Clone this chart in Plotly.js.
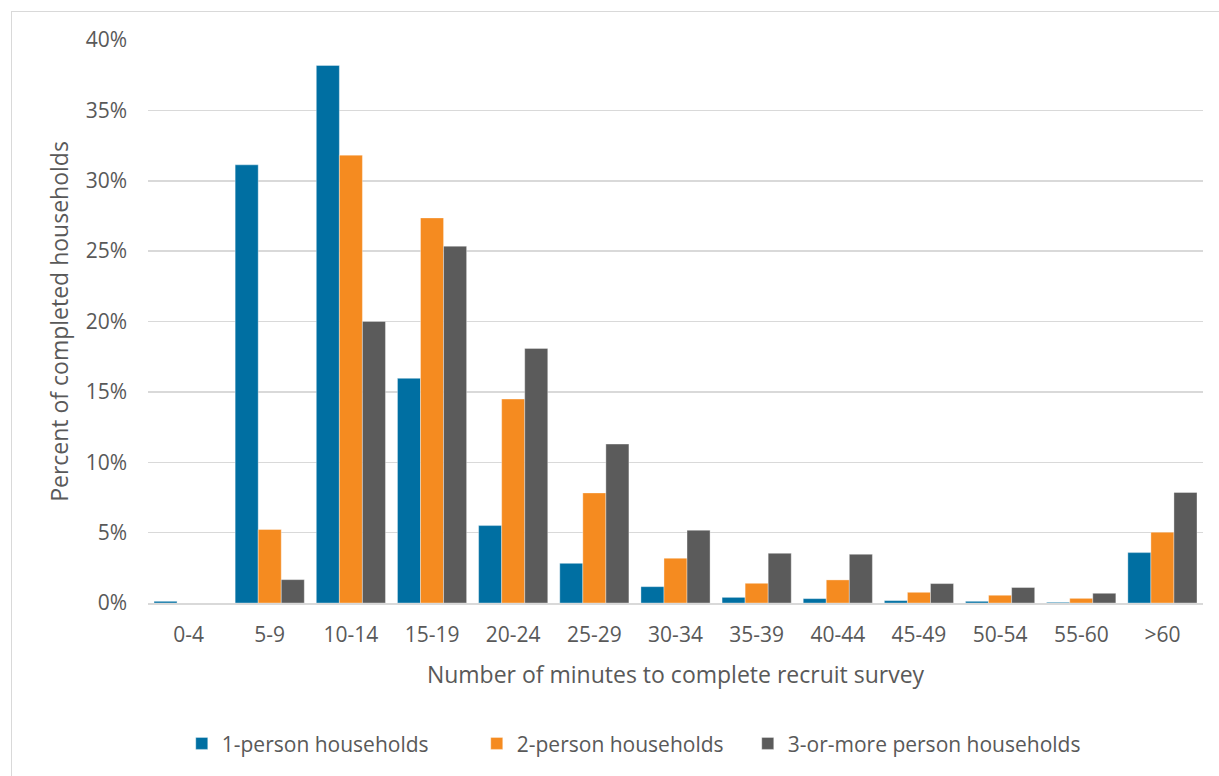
<!DOCTYPE html>
<html>
<head>
<meta charset="utf-8">
<script src="https://cdn.plot.ly/plotly-3.0.1.min.js"></script>
<style>
  html, body { margin: 0; padding: 0; background: #ffffff; }
  #wrap { position: relative; width: 1219px; height: 776px; overflow: hidden; }
  #frame { position: absolute; left: 11px; top: 11px; width: 1300px; height: 900px;
           border-left: 1.5px solid #d9d9d9; border-top: 1.5px solid #d9d9d9; pointer-events: none; }
  #chart { position: absolute; left: 0; top: 0; width: 1219px; height: 776px; }
</style>
</head>
<body>
<div id="wrap">
  <div id="chart"></div>
  <div id="frame"></div>
</div>
<script>
// Time bands (minutes) for completing the recruit survey
const categories = ['0-4', '5-9', '10-14', '15-19', '20-24', '25-29', '30-34',
                    '35-39', '40-44', '45-49', '50-54', '55-60', '>60'];

// Share of completed households per band (%)
const onePerson   = [0.12, 31.13, 38.19, 15.96, 5.50, 2.82, 1.16, 0.40, 0.31, 0.17, 0.12, 0.05, 3.58];
const twoPerson   = [0.00, 5.22, 31.82, 27.36, 14.49, 7.82, 3.18, 1.40, 1.64, 0.76, 0.55, 0.33, 5.03];
const threePlus   = [0.00, 1.66, 20.00, 25.35, 18.09, 11.29, 5.17, 3.53, 3.46, 1.38, 1.10, 0.69, 7.85];

const seriesNames = ['1-person households', '2-person households', '3-or-more person households'];
const seriesColors = ['#006fa2', '#f58b20', '#5b5b5b'];
const seriesValues = [onePerson, twoPerson, threePlus];

const FONT = '"Open Sans", "DejaVu Sans", sans-serif';
const TEXT = '#595959';

// legend entry widths in px (last entry holds the longest label)
const legendWidths = [250, 226, 330];

const traces = seriesValues.map((vals, i) => ({
  type: 'bar',
  name: seriesNames[i],
  x: categories,
  y: vals.map(v => v / 100),
  legendwidth: legendWidths[i],
  marker: { color: seriesColors[i], line: { color: 'rgba(255,255,255,0.45)', width: 0.8 } },
  hovertemplate: '%{x}: %{y:.1%}<extra>' + seriesNames[i] + '</extra>'
}));

const layout = {
  width: 1219,
  height: 776,
  margin: { l: 148, r: 16, t: 40, b: 173 },
  paper_bgcolor: '#ffffff',
  plot_bgcolor: '#ffffff',
  barmode: 'group',
  bargap: 0.148,
  bargroupgap: 0,
  font: { family: FONT, color: TEXT, size: 21 },
  xaxis: {
    type: 'category',
    showgrid: false,
    showline: true,
    linecolor: '#d9d9d9',
    linewidth: 1.5,
    ticks: '',
    tickfont: { family: FONT, size: 21, color: TEXT },
    ticklabelstandoff: 12,
    title: {
      text: 'Number of minutes to complete recruit survey',
      font: { family: FONT, size: 23, color: TEXT },
      standoff: 20
    }
  },
  yaxis: {
    range: [0, 0.40],
    dtick: 0.05,
    tickformat: '.0%',
    showgrid: true,
    gridcolor: '#d9d9d9',
    gridwidth: 1.5,
    zeroline: false,
    showline: false,
    ticks: '',
    tickfont: { family: FONT, size: 21, color: TEXT },
    ticklabelstandoff: 20,
    title: {
      text: 'Percent of completed households',
      font: { family: FONT, size: 23, color: TEXT },
      standoff: 10
    }
  },
  showlegend: true,
  legend: {
    orientation: 'h',
    x: 0.032,
    xanchor: 'left',
    y: -0.25,
    yanchor: 'middle',
    font: { family: FONT, size: 21, color: TEXT },
    itemwidth: 30,
    entrywidthmode: 'pixels',
    tracegroupgap: 0
  }
};

Plotly.newPlot('chart', traces, layout, { displayModeBar: false, staticPlot: true });
</script>
</body>
</html>
